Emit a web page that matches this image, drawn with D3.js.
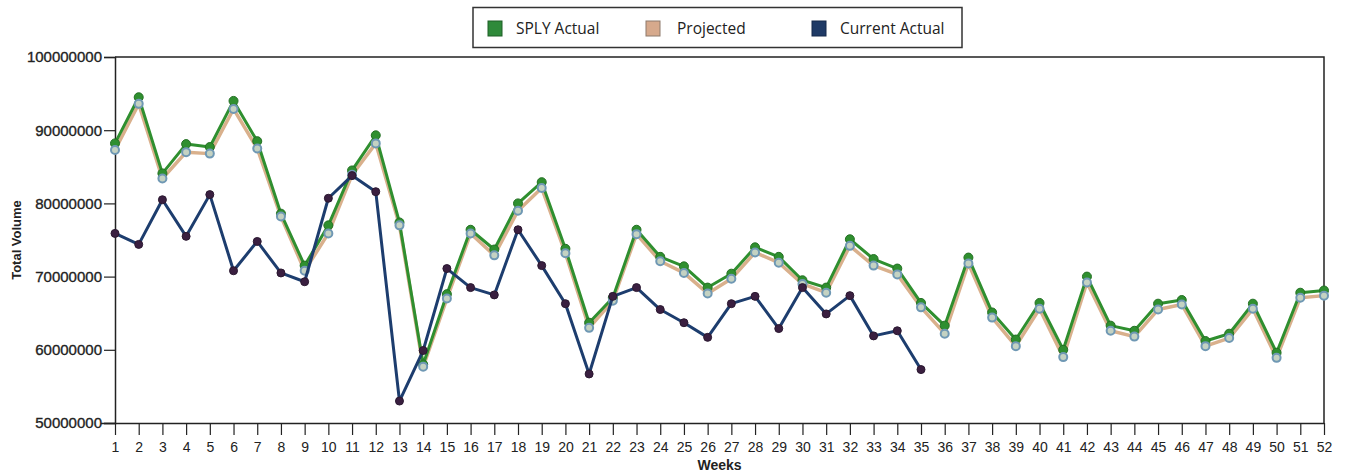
<!DOCTYPE html>
<html>
<head>
<meta charset="utf-8">
<script src="https://cdn.jsdelivr.net/npm/d3@7"></script>
<style>
  html, body { margin: 0; padding: 0; background: #fff; }
  svg { display: block; }
</style>
</head>
<body>
<svg id="chart" width="1346" height="476"></svg>
<script>
const weeks = d3.range(1, 53);
const yTicks = [50000000, 60000000, 70000000, 80000000, 90000000, 100000000];
const seriesNames = ["SPLY Actual", "Projected", "Current Actual"];

const splyActual = [
  88.2, 94.5, 84.1, 88.1, 87.7, 94.0, 88.5, 78.6, 71.5, 77.0,
  84.5, 89.3, 77.4, 58.0, 67.6, 76.4, 73.7, 80.0, 82.9, 73.8,
  63.7, 67.1, 76.4, 72.7, 71.4, 68.5, 70.4, 74.0, 72.7, 69.5,
  68.5, 75.1, 72.4, 71.1, 66.4, 63.3, 72.6, 65.1, 61.4, 66.4,
  60.0, 70.0, 63.3, 62.6, 66.3, 66.8, 61.2, 62.2, 66.3, 59.6,
  67.8, 68.1
].map(v => v * 1e6);

const projected = [
  87.3, 93.6, 83.4, 87.0, 86.8, 92.9, 87.5, 78.2, 70.8, 75.9,
  83.9, 88.2, 77.0, 57.7, 67.0, 75.9, 72.9, 79.0, 82.1, 73.2,
  63.0, 66.7, 75.8, 72.1, 70.5, 67.7, 69.7, 73.3, 71.9, 69.0,
  67.8, 74.2, 71.5, 70.3, 65.8, 62.2, 71.8, 64.4, 60.5, 65.6,
  59.0, 69.2, 62.6, 61.8, 65.5, 66.2, 60.5, 61.6, 65.6, 58.9,
  67.1, 67.4
].map(v => v * 1e6);

const currentActual = [
  75.9, 74.4, 80.5, 75.5, 81.2, 70.8, 74.8, 70.5, 69.3, 80.7,
  83.8, 81.6, 53.0, 59.9, 71.1, 68.5, 67.5, 76.4, 71.5, 66.3,
  56.7, 67.3, 68.5, 65.5, 63.7, 61.7, 66.3, 67.3, 62.9, 68.5,
  64.9, 67.4, 61.9, 62.6, 57.3
].map(v => v * 1e6);

const colors = {
  sply: "#2f8f2f",
  proj: "#d9b08c",
  projMarker: "#6f98b4",
  cur: "#1d3d6e",
  curMarker: "#3a1f40"
};

const svg = d3.select("#chart");
const margin = { left: 115, right: 22, top: 57, bottom: 53 };
const W = 1346, H = 476;
const x = d3.scaleLinear().domain([1, 52]).range([margin.left, W - margin.right]);
const y = d3.scaleLinear().domain([50000000, 100000000]).range([H - margin.bottom, margin.top]);

const fontAxis = "'Liberation Sans', Arial, sans-serif";

// plot border (top and right)
svg.append("path")
  .attr("d", `M${x(1)},${y(1e8)}H${x(52)}V${y(5e7)}`)
  .attr("fill", "none").attr("stroke", "#222").attr("stroke-width", 1.5);

// Y axis
const yAxis = svg.append("g")
  .attr("transform", `translate(${x(1)},0)`)
  .call(d3.axisLeft(y).tickValues(yTicks).tickFormat(d3.format("d")).tickSize(11).tickPadding(2));
yAxis.select(".domain").attr("stroke", "#222").attr("stroke-width", 1.5);
yAxis.selectAll(".tick line").attr("stroke", "#222").attr("stroke-width", 1.2);
yAxis.selectAll("text").attr("font-family", fontAxis).attr("font-size", 15)
  .attr("fill", "#222").attr("stroke", "#222").attr("stroke-width", 0.35);

// X axis
const xAxis = svg.append("g")
  .attr("transform", `translate(0,${y(5e7)})`)
  .call(d3.axisBottom(x).tickValues(weeks).tickFormat(d3.format("d")).tickSize(12).tickSizeOuter(0).tickPadding(7));
xAxis.select(".domain").attr("stroke", "#222").attr("stroke-width", 1.5)
  .attr("d", `M${x(1) - 14},0.5H${x(52)}`);
xAxis.selectAll(".tick line").attr("stroke", "#222").attr("stroke-width", 1.2);
xAxis.selectAll("text").attr("font-family", fontAxis).attr("font-size", 14).attr("fill", "#222");

// axis titles
svg.append("text")
  .attr("x", (x(1) + x(52)) / 2).attr("y", 470)
  .attr("text-anchor", "middle")
  .attr("font-family", fontAxis).attr("font-size", 14).attr("font-weight", "bold")
  .attr("fill", "#222").text("Weeks");
svg.append("text")
  .attr("transform", `translate(21,${(y(1e8) + y(5e7)) / 2}) rotate(-90)`)
  .attr("text-anchor", "middle")
  .attr("font-family", fontAxis).attr("font-size", 13).attr("font-weight", "bold")
  .attr("fill", "#222").text("Total Volume");

const line = d3.line().x((d, i) => x(weeks[i])).y(d => y(d));

// Projected line
svg.append("path").datum(projected).attr("d", line)
  .attr("fill", "none").attr("stroke", colors.proj).attr("stroke-width", 3.5).attr("stroke-linejoin", "round");
// SPLY line
svg.append("path").datum(splyActual).attr("d", line)
  .attr("fill", "none").attr("stroke", colors.sply).attr("stroke-width", 3).attr("stroke-linejoin", "round");
// SPLY markers
svg.append("g").selectAll("circle").data(splyActual).join("circle")
  .attr("cx", (d, i) => x(weeks[i])).attr("cy", d => y(d)).attr("r", 4.5)
  .attr("fill", colors.sply).attr("stroke", "#237023").attr("stroke-width", 1);
// Projected markers
svg.append("g").selectAll("circle").data(projected).join("circle")
  .attr("cx", (d, i) => x(weeks[i])).attr("cy", d => y(d)).attr("r", 4)
  .attr("fill", "#c4d2c2").attr("stroke", colors.projMarker).attr("stroke-width", 2);
// Current line
svg.append("path").datum(currentActual).attr("d", line)
  .attr("fill", "none").attr("stroke", colors.cur).attr("stroke-width", 3).attr("stroke-linejoin", "round");
svg.append("g").selectAll("circle").data(currentActual).join("circle")
  .attr("cx", (d, i) => x(weeks[i])).attr("cy", d => y(d)).attr("r", 4)
  .attr("fill", colors.curMarker).attr("stroke", "#2a1830").attr("stroke-width", 1);

// Legend
const lg = svg.append("g");
lg.append("rect").attr("x", 473).attr("y", 7.5).attr("width", 489).attr("height", 40)
  .attr("fill", "#fff").attr("stroke", "#333").attr("stroke-width", 1.5);
const legendItems = [
  { name: seriesNames[0], fill: "#2f8a3a", stroke: "#1e5e26", sx: 488, tx: 516 },
  { name: seriesNames[1], fill: "#d6a98c", stroke: "#8d7a6c", sx: 646, tx: 677 },
  { name: seriesNames[2], fill: "#1f3a66", stroke: "#15294a", sx: 812, tx: 840 }
];
legendItems.forEach(it => {
  lg.append("rect").attr("x", it.sx).attr("y", 21).attr("width", 14).attr("height", 15)
    .attr("fill", it.fill).attr("stroke", it.stroke).attr("stroke-width", 1);
  lg.append("text").attr("x", it.tx).attr("y", 33.5)
    .attr("font-family", "'Open Sans', 'Noto Sans', sans-serif").attr("font-size", 15.5)
    .attr("fill", "#222").text(it.name);
});
</script>
</body>
</html>
